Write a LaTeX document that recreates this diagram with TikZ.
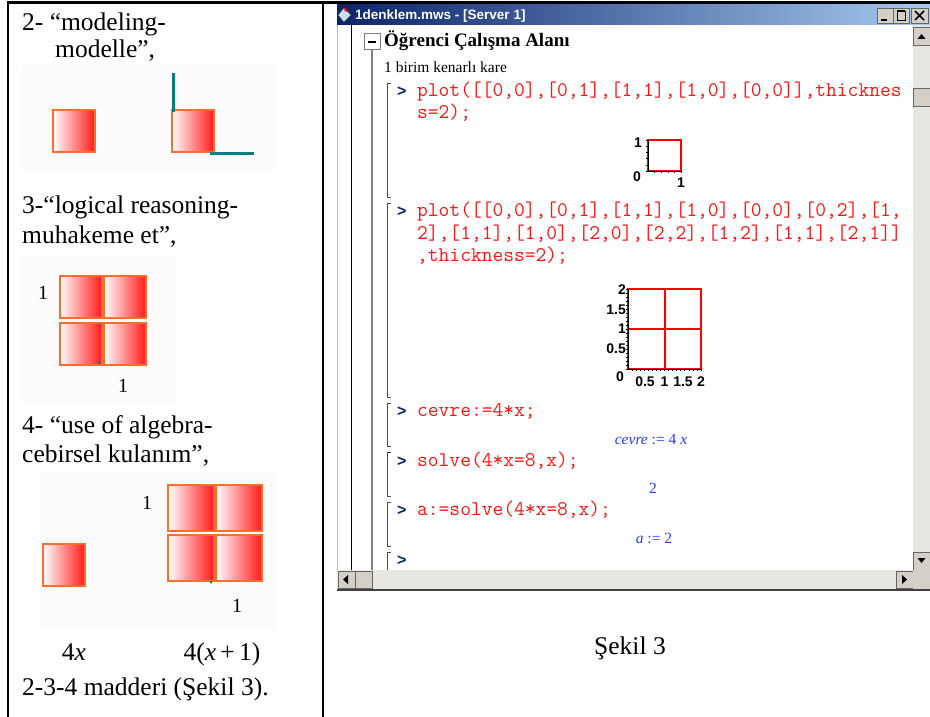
\documentclass[tikz,border=0pt]{standalone}
\usepackage{fontspec}
\setmainfont{Liberation Serif}
\newfontfamily\uifont{Liberation Sans}
\usepackage{tikz}

\definecolor{tileedge}{RGB}{255,110,40}
\definecolor{tilered}{RGB}{255,25,25}
\definecolor{edgeteal}{RGB}{0,128,128}
\definecolor{codered}{RGB}{255,20,20}
\definecolor{outblue}{RGB}{40,60,255}
\definecolor{barleft}{RGB}{10,36,106}
\definecolor{barright}{RGB}{166,202,240}
\definecolor{winface}{RGB}{212,208,200}
\definecolor{track}{RGB}{232,230,225}

\tikzset{
  bodytext/.style={anchor=base west, inner sep=0pt, font=\fontsize{25.5}{28}\selectfont},
  codeline/.style={anchor=base west, inner sep=0pt, text=codered, font=\ttfamily\fontsize{20.9}{22}\selectfont},
  prompt/.style={anchor=base west, inner sep=0pt, text=barleft, font=\uifont\bfseries\fontsize{16}{18}\selectfont},
  result/.style={anchor=base, inner sep=0pt, text=outblue, font=\fontsize{15.5}{17}\selectfont},
  ticklabel/.style={inner sep=0pt, font=\uifont\bfseries\fontsize{14}{14}\selectfont},
  unitlabel/.style={inner sep=0pt, font=\fontsize{20}{20}\selectfont},
  groupbracket/.style={draw=black!70, line width=0.8pt},
  winbutton/.style={fill=winface, draw=black!60, line width=0.8pt},
}

% gradient tile: x, y of top left corner, side
\newcommand{\gradtile}[3]{%
  \shade[left color=white, right color=tilered] (#1,#2) rectangle ++(#3,#3);
  \draw[tileedge, line width=2.6pt] (#1,#2) rectangle ++(#3,#3);}
% maple execution group bracket: top, bottom
\newcommand{\mgroup}[2]{%
  \draw[groupbracket] (391,#1) -- (387,#1) -- (387,#2) -- (391,#2);}

\begin{document}
\begin{tikzpicture}[x=1pt, y=-1pt]
\useasboundingbox (0,0) rectangle (930,717);
\fill[white] (0,0) rectangle (930,717);

% table frame
\draw[line width=3pt] (7,3) -- (930,3);
\draw[line width=2pt] (8,3) -- (8,717);
\draw[line width=2pt] (323,3) -- (323,717);

% left column, item 2
\node[bodytext] (t2a) at (22,31) {2- “modeling-};
\node[bodytext] (t2b) at (55,58) {modelle”,};
\fill[black!1] (22,65) rectangle (277,170);
\gradtile{53}{110}{42}
\gradtile{172}{110}{42}
\draw[edgeteal, line width=3pt] (173,73) -- (173,112);
\draw[edgeteal, line width=3pt] (210,153) -- (254,153);

% item 3
\node[bodytext] (t3a) at (22,213) {3-“logical reasoning-};
\node[bodytext] (t3b) at (22,243) {muhakeme et”,};
\fill[black!1] (22,255) rectangle (175,405);
\gradtile{60}{276}{42}
\gradtile{104}{276}{42}
\gradtile{60}{323}{42}
\gradtile{104}{323}{42}
\fill[edgeteal] (99,363) circle (1.5);
\node[unitlabel] (u3a) at (43,293) {1};
\node[unitlabel] (u3b) at (123,386) {1};

% item 4
\node[bodytext] (t4a) at (22,433) {4- “use of algebra-};
\node[bodytext] (t4b) at (22,462) {cebirsel kulanım”,};
\fill[black!1] (40,472) rectangle (275,630);
\gradtile{43}{544}{42}
\gradtile{168}{485}{46}
\gradtile{216}{485}{46}
\gradtile{168}{535}{46}
\gradtile{216}{535}{46}
\fill[edgeteal] (211,582) circle (1.5);
\node[unitlabel] (u4a) at (147,503) {1};
\node[unitlabel] (u4b) at (237,606) {1};
\node[bodytext, anchor=base] (f4x) at (74,660) {4\textit{x}};
\node[bodytext, anchor=base] (f4x1) at (222,660) {4(\textit{x}\,+\,1)};
\node[bodytext] (t234) at (22,695) {2-3-4 madderi (Şekil 3).};

% maple window: title bar
\shade[left color=barleft, right color=barright] (337,5) rectangle (930,25);
\fill[barright!60] (344,8) -- (351,15) -- (344,22) -- (338,15) -- cycle;
\draw[black!70] (344,8) -- (351,15) -- (344,22) -- (338,15) -- cycle;
\fill[red] (346,10) circle (1.8);
\node[anchor=base west, inner sep=0pt, text=white, font=\uifont\bfseries\fontsize{13.5}{14}\selectfont] (title) at (355,20) {1denklem.mws - [Server 1]};
\draw[winbutton] (877,8) rectangle (893,23);
\draw[line width=1.5pt] (881,20) -- (887,20);
\draw[winbutton] (893,8) rectangle (909,23);
\draw[line width=0.8pt] (897,11) rectangle (905,20);
\draw[line width=1.8pt] (897,11) -- (905,11);
\draw[winbutton] (911,8) rectangle (928,23);
\draw[line width=1.5pt] (915,11) -- (924,20) (924,11) -- (915,20);

% worksheet gutter
\draw[black!25] (337,25) -- (337,590);
\draw[line width=1pt] (351,25) -- (351,570);
\draw[gray, line width=2pt] (372,50) -- (372,570);
\draw[gray, fill=white, line width=1pt] (364,34) rectangle (380,50);
\draw[line width=1.5pt] (368,42) -- (376,42);
\node[anchor=base west, inner sep=0pt, font=\bfseries\fontsize{19}{20}\selectfont] (area) at (384,47) {Öğrenci Çalışma Alanı};
\node[anchor=base west, inner sep=0pt, font=\fontsize{15.5}{16}\selectfont] (caption) at (384,73) {1 birim kenarlı kare};

% execution groups
\mgroup{83}{197}
\mgroup{203}{397}
\mgroup{403}{446}
\mgroup{452}{496}
\mgroup{502}{546}
\draw[groupbracket] (391,552) -- (387,552) -- (387,570);

\node[prompt] (p1) at (397,96) {>};
\node[codeline] (c1a) at (417,96) {plot([[0,0],[0,1],[1,1],[1,0],[0,0]],thicknes};
\node[codeline] (c1b) at (417,118) {s=2);};

% first plot
\draw[red, line width=2pt] (648,140) rectangle (681,171);
\draw[line width=0.7pt] (648,140) -- (648,171) -- (681,171);
\foreach \k in {0,...,5} \draw[line width=0.6pt] (646,140+\k*6.2) -- (648,140+\k*6.2);
\foreach \k in {1,...,5} \draw[line width=0.6pt] (648+\k*6.6,171) -- (648+\k*6.6,173);
\node[ticklabel] (y1) at (638,143) {1};
\node[ticklabel] (y0) at (637,177) {0};
\node[ticklabel] (x1) at (681,183) {1};

\node[prompt] (p2) at (397,216) {>};
\node[codeline] (c2a) at (417,216) {plot([[0,0],[0,1],[1,1],[1,0],[0,0],[0,2],[1,};
\node[codeline] (c2b) at (417,239) {2],[1,1],[1,0],[2,0],[2,2],[1,2],[1,1],[2,1]]};
\node[codeline] (c2c) at (417,261) {,thickness=2);};

% second plot
\draw[red, line width=2pt] (628,289) rectangle (701,369);
\draw[red, line width=2pt] (664.5,289) -- (664.5,369) (628,329) -- (701,329);
\draw[line width=0.7pt] (628,289) -- (628,369) -- (701,369);
\foreach \k in {0,...,20} \draw[line width=0.5pt] (626,289+\k*4) -- (628,289+\k*4);
\foreach \k in {1,...,18} \draw[line width=0.5pt] (628+\k*4.05,369) -- (628+\k*4.05,371);
\node[ticklabel, anchor=east] (ya) at (626,290) {2};
\node[ticklabel, anchor=east] (yb) at (626,310) {1.5};
\node[ticklabel, anchor=east] (yc) at (626,329) {1};
\node[ticklabel, anchor=east] (yd) at (626,349) {0.5};
\node[ticklabel, anchor=east] (ye) at (624,377) {0};
\node[ticklabel] (xa) at (645,382) {0.5};
\node[ticklabel] (xb) at (664.5,382) {1};
\node[ticklabel] (xc) at (683,382) {1.5};
\node[ticklabel] (xd) at (701,382) {2};

\node[prompt] (p3) at (397,416) {>};
\node[codeline] (c3) at (417,416) {cevre:=4*x;};
\node[result] (r3) at (651,444) {\textit{cevre} := 4 \textit{x}};
\node[prompt] (p4) at (397,466) {>};
\node[codeline] (c4) at (417,466) {solve(4*x=8,x);};
\node[result] (r4) at (653,493) {2};
\node[prompt] (p5) at (397,515) {>};
\node[codeline] (c5) at (417,515) {a:=solve(4*x=8,x);};
\node[result] (r5) at (654,543) {\textit{a} := 2};
\node[prompt] (p6) at (397,565) {>};

% scroll bars
\fill[track] (913,25) rectangle (930,570);
\draw[winbutton] (913,27) rectangle (930,45);
\fill (917.5,39) -- (921.5,34) -- (925.5,39) -- cycle;
\draw[winbutton] (913,88) rectangle (930,106);
\draw[winbutton] (913,552) rectangle (930,570);
\fill (917.5,558) -- (921.5,563) -- (925.5,558) -- cycle;
\fill[track] (337,570) rectangle (930,589);
\draw[winbutton] (338,571) rectangle (355,588);
\fill (348,575) -- (343,579.5) -- (348,584) -- cycle;
\draw[winbutton] (355,571) rectangle (372,588);
\draw[winbutton] (896,571) rectangle (913,588);
\fill (902,575) -- (907,579.5) -- (902,584) -- cycle;
\fill[winface] (913,570) rectangle (930,589);
\draw[black!75, line width=1.5pt] (337,590) -- (930,590);

\node[bodytext, anchor=base] (fig) at (630,654) {Şekil 3};
\end{tikzpicture}
\end{document}
